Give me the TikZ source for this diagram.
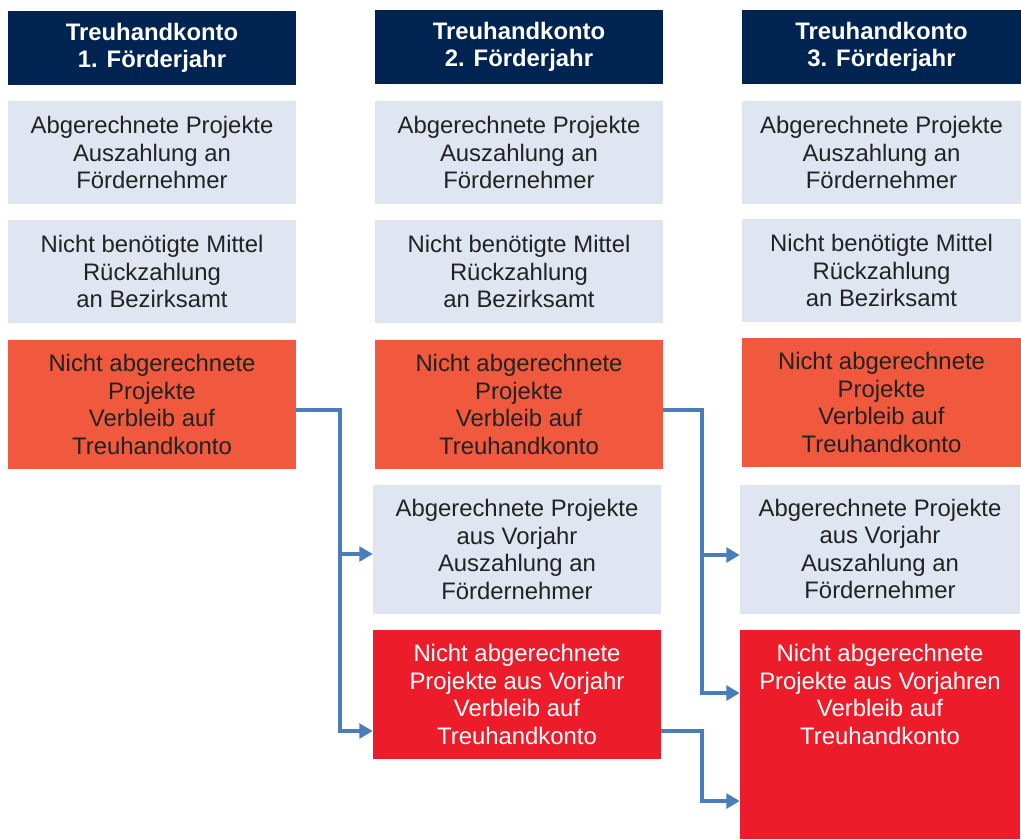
\documentclass[tikz,border=0pt]{standalone}
\usepackage{fontspec}
\setmainfont{Liberation Sans}
\usetikzlibrary{arrows.meta,calc}

\definecolor{vjnavy}{HTML}{002452}
\definecolor{vjlight}{HTML}{DFE6F2}
\definecolor{vjorange}{HTML}{F0593E}
\definecolor{vjred}{HTML}{ED1C2B}
\definecolor{vjblue}{HTML}{4A7EBB}
\definecolor{vjtext}{HTML}{222222}

\begin{document}
\begin{tikzpicture}[
    x=0.75pt, y=-0.75pt,
    box/.style={rectangle, inner sep=0pt, align=center, minimum width=216pt, text=vjtext, font=\fontsize{17.9pt}{20.6pt}\selectfont},
    head/.style={box, fill=vjnavy, text=white, font=\fontsize{17.9pt}{20.6pt}\selectfont\bfseries, minimum height=55.5pt},
    paid/.style={box, fill=vjlight, minimum height=77.25pt},
    open/.style={box, fill=vjorange, minimum height=96.75pt},
    prev/.style={box, fill=vjlight, minimum height=96.75pt},
    rest/.style={box, fill=vjred, text=white, minimum height=96.75pt},
    narrow/.style={minimum width=210pt},
    arrow/.style={draw=vjblue, line width=3pt, -{Triangle[length=10pt,width=11pt]}}
]
    \useasboundingbox (0,0) rectangle (1021,839);

    % 1. Foerderjahr
    \node[head] (head1) at (152,48) {Treuhandkonto\\1. Förderjahr};
    \node[paid] (paid1) at (152,152.5) {Abgerechnete Projekte\\Auszahlung an\\Fördernehmer};
    \node[paid] (back1) at (152,271.5) {Nicht benötigte Mittel\\Rückzahlung\\an Bezirksamt};
    \node[open] (open1) at (152,404.5) {Nicht abgerechnete\\Projekte\\Verbleib auf\\Treuhandkonto};

    % 2. Foerderjahr
    \node[head] (head2) at (519,47) {Treuhandkonto\\2. Förderjahr};
    \node[paid] (paid2) at (519,152.5) {Abgerechnete Projekte\\Auszahlung an\\Fördernehmer};
    \node[paid] (back2) at (519,271.5) {Nicht benötigte Mittel\\Rückzahlung\\an Bezirksamt};
    \node[open] (open2) at (519,404.5) {Nicht abgerechnete\\Projekte\\Verbleib auf\\Treuhandkonto};
    \node[prev] (prev2) at (517,549.5) {Abgerechnete Projekte\\aus Vorjahr\\Auszahlung an\\Fördernehmer};
    \node[rest] (rest2) at (517,694.5) {Nicht abgerechnete\\Projekte aus Vorjahr\\Verbleib auf\\Treuhandkonto};

    % 3. Foerderjahr
    \node[head, narrow] (head3) at (881.5,47) {Treuhandkonto\\3. Förderjahr};
    \node[paid, narrow] (paid3) at (881.5,152.5) {Abgerechnete Projekte\\Auszahlung an\\Fördernehmer};
    \node[paid, narrow] (back3) at (881.5,270.5) {Nicht benötigte Mittel\\Rückzahlung\\an Bezirksamt};
    \node[open, narrow] (open3) at (881.5,402.5) {Nicht abgerechnete\\Projekte\\Verbleib auf\\Treuhandkonto};
    \node[prev, narrow] (prev3) at (880,549) {Abgerechnete Projekte\\aus Vorjahr\\Auszahlung an\\Fördernehmer};
    \node[rest, narrow] (rest3) at (880,694.5) {Nicht abgerechnete\\Projekte aus Vorjahren\\Verbleib auf\\Treuhandkonto};
    % red box runs on to the bottom
    \fill[vjred] (rest3.south west) rectangle ($(rest3.south east)+(0,80)$);

    % carry over into year 2
    \draw[arrow] ($(open1.east)+(0,5.5)$) -- ++(44,0) |- ($(prev2.west)+(0,4.5)$);
    \draw[arrow] ($(open1.east)+(0,5.5)$) -- ++(44,0) |- ($(rest2.west)+(0,36.5)$);

    % carry over into year 3
    \draw[arrow] ($(open2.east)+(0,5.5)$) -- ++(39,0) |- ($(prev3.west)+(0,6)$);
    \draw[arrow] ($(open2.east)+(0,5.5)$) -- ++(39,0) |- ($(rest3.west)+(0,-1.5)$);
    \draw[arrow] ($(rest2.east)+(0,36.5)$) -- ++(41,0) |- ($(rest3.west)+(0,106.5)$);
\end{tikzpicture}
\end{document}
